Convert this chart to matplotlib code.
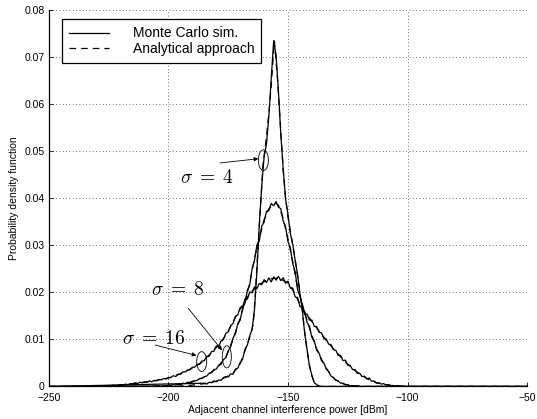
import numpy as np
import matplotlib
matplotlib.use('Agg')
import matplotlib.pyplot as plt
from matplotlib.patches import Ellipse

plt.rcParams['font.family'] = ['Liberation Sans', 'DejaVu Sans']
plt.rcParams['mathtext.fontset'] = 'cm'

# analytical approach (dashed)
a4_x = [-250, -200, -195, -190, -185, -180, -176, -173, -170, -168, -166, -164.5, -163.5, -162.5,
        -161.5, -160.5, -159.5, -158, -157, -156.2, -155.7, -154.5, -153.3, -152, -151, -150, -149,
        -148, -147, -146, -145, -144, -143, -142, -141, -140, -139, -138, -137, -50]
a4_y = [0, 0, 0.0001, 0.0003, 0.0006, 0.0011, 0.002, 0.0028, 0.0048, 0.0076, 0.0105, 0.0133, 0.021,
        0.030, 0.038, 0.047, 0.051, 0.058, 0.064, 0.070, 0.0734, 0.066, 0.0566, 0.0459, 0.040, 0.036,
        0.033, 0.030, 0.027, 0.0235, 0.020, 0.016, 0.0115, 0.0075, 0.0045, 0.0022, 0.0009, 0.0003, 0, 0]

a8_x = [-250, -210, -205, -200, -195, -190, -185, -180, -176, -173, -170, -168, -166, -164, -162,
        -160, -158, -156, -155, -154, -152, -150, -148, -146, -144, -142, -140, -138, -136, -134,
        -132, -130, -127, -124, -121, -118, -50]
a8_y = [0, 0, 0.0001, 0.0002, 0.0005, 0.001, 0.002, 0.0038, 0.0062, 0.010, 0.0145, 0.018, 0.022,
        0.0273, 0.0315, 0.0355, 0.0378, 0.0388, 0.0389, 0.0385, 0.0357, 0.0313, 0.0265, 0.021, 0.0175,
        0.014, 0.0108, 0.008, 0.0058, 0.0039, 0.0024, 0.0014, 0.0006, 0.0002, 0.0001, 0, 0]

a16_x = [-250, -232, -225, -220, -215, -210, -205, -200, -195, -190, -186, -182, -178, -175, -172,
         -169, -166, -163, -160, -157, -155, -153, -150, -148, -146, -144, -142, -140, -137, -134,
         -131, -128, -125, -122, -119, -116, -113, -110, -107, -104, -101, -50]
a16_y = [0, 0, 0.0001, 0.0003, 0.0006, 0.0009, 0.0013, 0.0018, 0.0027, 0.0039, 0.0052, 0.0072,
         0.0094, 0.0118, 0.0147, 0.0173, 0.0197, 0.0213, 0.0223, 0.0229, 0.023, 0.0228, 0.022, 0.0205,
         0.0185, 0.0165, 0.0152, 0.0138, 0.0118, 0.0098, 0.008, 0.0063, 0.0047, 0.0034, 0.0023,
         0.0014, 0.0008, 0.0005, 0.0002, 0.0001, 0, 0]

# Monte Carlo simulation (solid), 1 dB bins
mc4_x = np.arange(-185, -134)
mc4_y = [0.0007, 0.0005, 0.0009, 0.0008, 0.0012, 0.001, 0.0014, 0.0013, 0.0019, 0.0021,
         0.002, 0.0027, 0.0026, 0.0037, 0.0039, 0.0051, 0.0058, 0.0079, 0.0088, 0.0108,
         0.0121, 0.0165, 0.0245, 0.0345, 0.0425, 0.0488, 0.0515, 0.0575, 0.0655, 0.0735,
         0.0705, 0.0628, 0.0535, 0.0462, 0.0398, 0.0365, 0.0325, 0.0302, 0.0268, 0.0238,
         0.0196, 0.0163, 0.0112, 0.0078, 0.0043, 0.0024, 0.0008, 0.0004, 0.0001, 0,
         0]

mc8_x = np.arange(-205, -119)
mc8_y = [0.0001, 0.0, 0.0001, 0.0002, 0.0001, 0.0003, 0.0002, 0.0004, 0.0003, 0.0005,
         0.0004, 0.0007, 0.0006, 0.0009, 0.0008, 0.0011, 0.0012, 0.0013, 0.0017, 0.0017,
         0.0021, 0.0022, 0.0028, 0.0029, 0.0036, 0.0037, 0.0045, 0.0047, 0.0057, 0.0061,
         0.0076, 0.0084, 0.0103, 0.0112, 0.0134, 0.0141, 0.0166, 0.0177, 0.0204, 0.0216,
         0.0251, 0.0268, 0.0301, 0.0309, 0.0341, 0.0349, 0.0372, 0.0374, 0.0389, 0.0384,
         0.0393, 0.0381, 0.0378, 0.0352, 0.0339, 0.0308, 0.0294, 0.0261, 0.0244, 0.0206,
         0.0193, 0.0171, 0.0158, 0.0136, 0.0128, 0.0104, 0.0097, 0.0077, 0.0071, 0.0055,
         0.005, 0.0037, 0.0032, 0.0022, 0.0019, 0.0013, 0.0012, 0.0007, 0.0007, 0.0003,
         0.0004, 0.0001, 0.0002, 0.0001, 0.0001, 0]

mc16_x = np.arange(-230, -99)
mc16_y = [0, 0.0001, 0, 0.0001, 0.0002, 0.0001, 0.0002, 0.0003, 0.0002, 0.0003,
          0.0004, 0.0003, 0.0005, 0.0004, 0.0006, 0.0005, 0.0008, 0.0006, 0.0009, 0.0008,
          0.001, 0.0009, 0.0012, 0.001, 0.0013, 0.0012, 0.0015, 0.0014, 0.0017, 0.0016,
          0.0019, 0.0019, 0.0023, 0.0021, 0.0026, 0.0026, 0.0031, 0.0031, 0.0035, 0.0036,
          0.0041, 0.0041, 0.0047, 0.0047, 0.0054, 0.0055, 0.0064, 0.0064, 0.0074, 0.0075,
          0.0086, 0.0085, 0.0097, 0.0100, 0.0113, 0.0116, 0.0129, 0.0134, 0.0149, 0.0152,
          0.0168, 0.0169, 0.0186, 0.0186, 0.0201, 0.0199, 0.0212, 0.0208, 0.0219, 0.0216,
          0.0227, 0.0221, 0.0231, 0.0222, 0.0233, 0.0226, 0.0234, 0.0225, 0.0231, 0.0219,
          0.0224, 0.0209, 0.0209, 0.0190, 0.0189, 0.0170, 0.0167, 0.0153, 0.0154, 0.0141,
          0.0141, 0.0128, 0.0127, 0.0115, 0.0114, 0.0102, 0.0101, 0.0090, 0.0089, 0.0078,
          0.0077, 0.0066, 0.0066, 0.0055, 0.0056, 0.0045, 0.0045, 0.0036, 0.0036, 0.0028,
          0.0028, 0.0021, 0.0022, 0.0016, 0.0018, 0.0011, 0.0012, 0.0007, 0.0008, 0.0005,
          0.0006, 0.0003, 0.0004, 0.0002, 0.0002, 0.0001, 0.0002, 0, 0.0001, 0,
          0]

x_ticks = [-250, -200, -150, -100, -50]
y_ticks = [0, 0.01, 0.02, 0.03, 0.04, 0.05, 0.06, 0.07, 0.08]
y_ticklabels = ['0', '0.01', '0.02', '0.03', '0.04', '0.05', '0.06', '0.07', '0.08']

fig = plt.figure(figsize=(5.37, 4.19), dpi=100)
ax = fig.add_axes([0.0912, 0.0776, 0.8902, 0.8984])

lw = 0.9
dash = (5.3, 4)
for i, (xx, yy) in enumerate([(mc4_x, mc4_y), (mc8_x, mc8_y), (mc16_x, mc16_y)]):
    xs = np.r_[-250, xx, -50]
    ys = np.r_[0, yy, 0]
    ax.plot(xs, ys, 'k-', lw=lw, label='Monte Carlo sim.' if i == 0 else None)
for i, (xx, yy) in enumerate([(a4_x, a4_y), (a8_x, a8_y), (a16_x, a16_y)]):
    ax.plot(xx, yy, 'k--', lw=lw, dashes=dash, label='Analytical approach' if i == 0 else None)

ax.set_xlim(-250, -50)
ax.set_ylim(0, 0.08)
ax.set_xticks(x_ticks)
ax.set_yticks(y_ticks)
ax.set_yticklabels(y_ticklabels)
ax.tick_params(direction='in', length=3, width=0.6, labelsize=7.5, pad=3)
ax.tick_params(axis='x', pad=4.5)
ax.grid(True, color='0.25', linestyle=(0, (1, 3)), lw=0.6)
ax.spines['top'].set_visible(False)
ax.spines['right'].set_visible(False)
for s in ['left', 'bottom']:
    ax.spines[s].set_linewidth(0.9)

ax.set_xlabel('Adjacent channel interference power [dBm]', fontsize=7.5, labelpad=1.5)
ax.set_ylabel('Probability density function', fontsize=7.5, labelpad=4)

leg = ax.legend(loc='upper left', bbox_to_anchor=(0.027, 0.975), fontsize=10,
                handlelength=2.9, handletextpad=1.7, labelspacing=0.1,
                borderpad=0.5, borderaxespad=0, fancybox=False, framealpha=1)
leg.get_frame().set_edgecolor('k')
leg.get_frame().set_linewidth(0.9)

# sigma annotations
arrow = dict(arrowstyle='-|>', lw=0.6, color='k', mutation_scale=6, shrinkA=0, shrinkB=0)
for (cx, cy, w, h) in [(-160.3, 0.0481, 4.2, 0.0044), (-175.6, 0.0063, 3.8, 0.0047),
                       (-186.1, 0.0053, 4.2, 0.0042)]:
    ax.add_patch(Ellipse((cx, cy), w, h, fill=False, lw=0.6, color='k'))
ax.annotate('', xy=(-162.4, 0.0484), xytext=(-178.5, 0.0475), arrowprops=arrow)
ax.annotate('', xy=(-177.6, 0.0077), xytext=(-191.7, 0.0166), arrowprops=arrow)
ax.annotate('', xy=(-188.3, 0.0066), xytext=(-205.6, 0.0088), arrowprops=arrow)
ax.text(-195.2, 0.0444, r'$\sigma\;=\;4$', fontsize=14, va='center', ha='left')
ax.text(-207.3, 0.0206, r'$\sigma\;=\;8$', fontsize=14, va='center', ha='left')
ax.text(-219.6, 0.0100, r'$\sigma\;=\;16$', fontsize=14, va='center', ha='left')

fig.savefig('out.png', dpi=100)
